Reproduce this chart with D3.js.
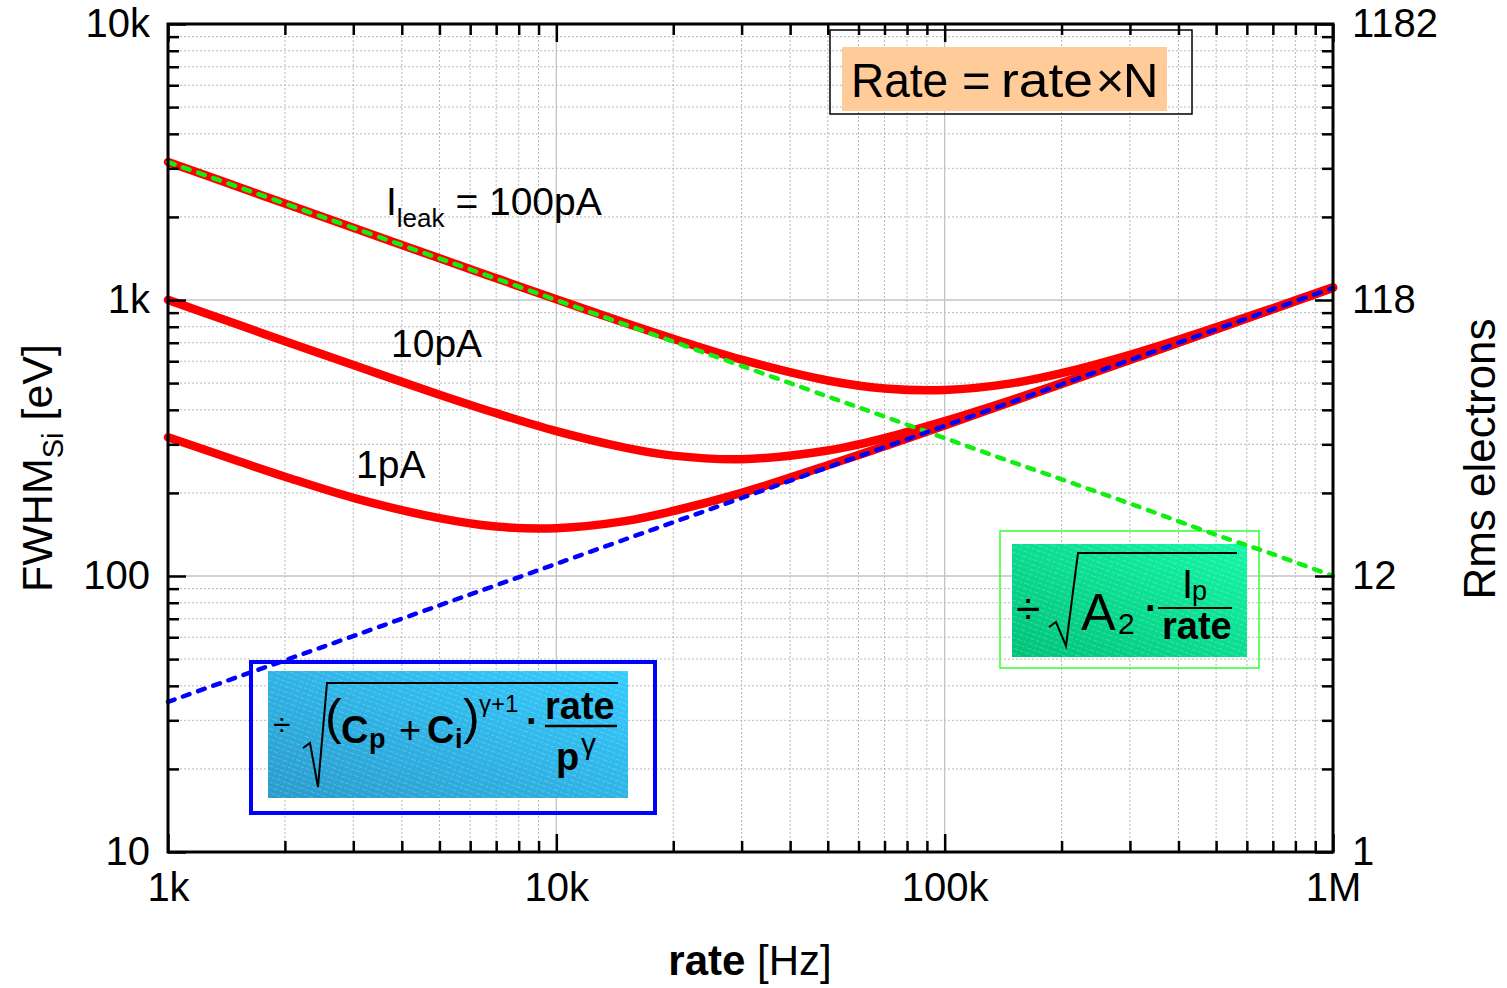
<!DOCTYPE html>
<html>
<head>
<meta charset="utf-8">
<script src="https://cdn.jsdelivr.net/npm/d3@7/dist/d3.min.js"></script>
<style>
  body { margin: 0; background: #fff; }
  svg text { font-family: "Liberation Sans", Arial, sans-serif; }
</style>
</head>
<body>
<svg id="chart" width="1507" height="988"></svg>
<script>
// values
const rate = [1e3, 1.5e3, 2e3, 3e3, 5e3, 7e3, 1e4, 1.5e4, 2e4, 3e4, 5e4, 7e4, 1e5, 1.5e5, 2e5, 3e5, 5e5, 7e5, 1e6];
const fwhm100pA = [3162, 2582, 2237, 1827, 1416, 1199, 1006, 827, 724, 608, 511, 478, 472, 500, 543, 633, 796, 934, 1112];
const fwhm10pA  = [1001, 818, 709, 581, 454, 389, 335, 292, 273, 265, 285, 316, 364, 436, 500, 609, 784, 927, 1108];
const fwhm1pA   = [318, 262, 229, 192, 162, 151, 149, 158, 172, 200, 252, 295, 351, 430, 496, 606, 783, 926, 1107];
const leakTerm  = [3162, 2582, 2236, 1826, 1414, 1195, 1000, 816, 707, 577, 447, 378, 316, 258, 224, 183, 141, 120, 100];
const rateTerm  = [35, 42.9, 49.5, 60.6, 78.3, 92.6, 110.7, 135.6, 156.5, 191.7, 247.5, 292.8, 350, 428.7, 495, 606, 783, 926, 1107];

const xMajor = [1e3, 1e4, 1e5, 1e6];
const xTickLabels = ["1k", "10k", "100k", "1M"];
const yMajor = [10, 100, 1e3, 1e4];
const yTickLabels = ["10", "100", "1k", "10k"];
const rightTickLabels = ["1", "12", "118", "1182"];

const svg = d3.select('#chart');
const L = 168, R = 1333, T = 24, B = 852;

const x = d3.scaleLog().domain([1e3, 1e6]).range([L, R]);
const y = d3.scaleLog().domain([10, 1e4]).range([B, T]);

// minor tick positions 2..9 in each decade
const minorOf = (lo, hi) => {
    let out = [];
    for (let d = lo; d < hi; d *= 10)
        for (let k = 2; k <= 9; k++) out.push(k * d);
    return out;
};
const xMinor = minorOf(1e3, 1e6);
const yMinor = minorOf(10, 1e4);

const defs = svg.append('defs');
function grad(id, c0, c1) {
    let g = defs.append('linearGradient').attr('id', id)
        .attr('x1', '0%').attr('y1', '100%').attr('x2', '100%').attr('y2', '0%');
    g.append('stop').attr('offset', '0%').attr('stop-color', c0);
    g.append('stop').attr('offset', '100%').attr('stop-color', c1);
}
grad('cyanGrad', '#2a9ccc', '#35ccff');
grad('greenGrad', '#00c279', '#16f7a8');
let pat = defs.append('pattern').attr('id', 'hatch')
    .attr('width', 12).attr('height', 5)
    .attr('patternUnits', 'userSpaceOnUse')
    .attr('patternTransform', 'rotate(20)');
pat.append('line').attr('x1', 0).attr('y1', 2.5).attr('x2', 12).attr('y2', 2.5)
    .attr('stroke', '#fff').attr('stroke-opacity', 0.22).attr('stroke-width', 1)
    .attr('stroke-dasharray', '3,2');

// grid
let grid = svg.append('g');
grid.selectAll('.gxm').data(xMinor).enter().append('line')
    .attr('x1', d => x(d)).attr('x2', d => x(d)).attr('y1', T).attr('y2', B)
    .attr('stroke', '#b8b8b8').attr('stroke-dasharray', '2,2');
grid.selectAll('.gym').data(yMinor).enter().append('line')
    .attr('y1', d => y(d)).attr('y2', d => y(d)).attr('x1', L).attr('x2', R)
    .attr('stroke', '#b8b8b8').attr('stroke-dasharray', '2,2');
grid.selectAll('.gxM').data(xMajor.slice(1, 3)).enter().append('line')
    .attr('x1', d => x(d)).attr('x2', d => x(d)).attr('y1', T).attr('y2', B)
    .attr('stroke', '#c4c4c4').attr('stroke-width', 1.3);
grid.selectAll('.gyM').data(yMajor.slice(1, 3)).enter().append('line')
    .attr('y1', d => y(d)).attr('y2', d => y(d)).attr('x1', L).attr('x2', R)
    .attr('stroke', '#c4c4c4').attr('stroke-width', 1.3);

// formula boxes
function box(x0, y0, w, h, stroke, sw, fx, fy, fw, fh, fill) {
    svg.append('rect').attr('x', x0).attr('y', y0).attr('width', w).attr('height', h)
        .attr('fill', 'none').attr('stroke', stroke).attr('stroke-width', sw);
    svg.append('rect').attr('x', fx).attr('y', fy).attr('width', fw).attr('height', fh)
        .attr('fill', fill);
}
box(830, 30, 362, 84, '#000', 1.5, 842, 47, 325, 64, '#ffcc99');
box(251, 662, 404, 151, '#0000ff', 4, 268, 671, 360, 127, 'url(#cyanGrad)');
svg.append('rect').attr('x', 268).attr('y', 671).attr('width', 360).attr('height', 127).attr('fill', 'url(#hatch)');
box(1000, 531, 259, 137, '#33ff33', 1.5, 1012, 544, 235, 113, 'url(#greenGrad)');
svg.append('rect').attr('x', 1012).attr('y', 544).attr('width', 235).attr('height', 113).attr('fill', 'url(#hatch)');

function txt(s, px, py, size, weight, anchor) {
    return svg.append('text').attr('x', px).attr('y', py)
        .attr('font-size', size).attr('font-weight', weight || 'normal')
        .attr('text-anchor', anchor || 'start').text(s);
}

// Rate = rate x N
txt('Rate', 851, 97, 49).attr('textLength', 97).attr('lengthAdjust', 'spacingAndGlyphs');
txt('=', 962, 97, 49);
txt('rate', 1001, 97, 49).attr('textLength', 92).attr('lengthAdjust', 'spacingAndGlyphs');
txt('\u00d7', 1110, 97, 49, 'normal', 'middle');
txt('N', 1123, 97, 49);

// blue formula
txt('\u00f7', 273, 735, 32);
svg.append('path').attr('d', 'M303,748 L310,743 L318,787 L327,683 L618,683')
    .attr('fill', 'none').attr('stroke', '#000').attr('stroke-width', 2);
txt('(', 325, 734, 50);
txt('C', 341, 743, 38, 'bold');
txt('p', 369, 748, 27, 'bold');
txt('+', 399, 743, 38);
txt('C', 427, 743, 38, 'bold');
txt('i', 455, 748, 27, 'bold');
txt(')', 463, 734, 50);
txt('\u03b3+1', 479, 712, 24);
txt('\u00b7', 526, 734, 38, 'bold');
txt('rate', 545, 719, 38, 'bold');
svg.append('line').attr('x1', 545).attr('x2', 617).attr('y1', 726).attr('y2', 726)
    .attr('stroke', '#000').attr('stroke-width', 2.5);
txt('p', 556, 770, 38, 'bold');
txt('\u03b3', 581, 754, 30);

// green formula
txt('\u00f7', 1016, 624, 44);
svg.append('path').attr('d', 'M1049,627 L1056,622 L1066,646 L1078,553 L1237,553')
    .attr('fill', 'none').attr('stroke', '#000').attr('stroke-width', 2);
txt('A', 1081, 630, 52);
txt('2', 1118, 634, 30);
txt('\u00b7', 1145, 621, 38, 'bold');
txt('I', 1182, 598, 40);
txt('p', 1192, 600, 27);
svg.append('line').attr('x1', 1158).attr('x2', 1232).attr('y1', 608).attr('y2', 608)
    .attr('stroke', '#000').attr('stroke-width', 2);
txt('rate', 1162, 639, 38, 'bold');

// curves
const pts = vals => rate.map((r, i) => [x(r), y(vals[i])]);
const line = d3.line().curve(d3.curveCatmullRom);
[fwhm100pA, fwhm10pA, fwhm1pA].forEach(v => {
    svg.append('path').attr('d', line(pts(v)))
        .attr('fill', 'none').attr('stroke', '#ff0000').attr('stroke-width', 8.5)
        .attr('stroke-linecap', 'round').attr('stroke-linejoin', 'round');
});
svg.append('path').attr('d', line(pts(leakTerm)))
    .attr('fill', 'none').attr('stroke', '#11ee11').attr('stroke-width', 4.5)
    .attr('stroke-dasharray', '7,9').attr('stroke-linecap', 'round');
svg.append('path').attr('d', line(pts(rateTerm)))
    .attr('fill', 'none').attr('stroke', '#0000ff').attr('stroke-width', 4.5)
    .attr('stroke-dasharray', '7,9').attr('stroke-linecap', 'round');

// curve labels
let lab = svg.append('text').attr('x', 386).attr('y', 215).attr('font-size', 39);
lab.append('tspan').text('I');
lab.append('tspan').attr('font-size', 26).attr('dy', 12).text('leak');
lab.append('tspan').attr('dy', -12).text(' = 100pA');
txt('10pA', 391, 357, 39);
txt('1pA', 356, 478, 39);

// axes with inward ticks
function drawAxis(gen, scale, tx, ty, minor, major, labels, pad) {
    svg.append('g').attr('transform', `translate(${tx},${ty})`)
        .call(gen(scale).tickValues(minor).tickSize(-11).tickFormat(''))
        .call(g => g.select('.domain').remove())
        .call(g => g.selectAll('line').attr('stroke-width', 2.5));
    let g = svg.append('g').attr('transform', `translate(${tx},${ty})`)
        .call(gen(scale).tickValues(major).tickSize(-18).tickPadding(pad)
            .tickFormat((d, i) => labels ? labels[i] : ''))
        .call(g => g.select('.domain').remove())
        .call(g => g.selectAll('line').attr('stroke-width', 2.5));
    g.selectAll('text').attr('font-size', 40).attr('fill', '#000')
        .attr('font-family', '"Liberation Sans", Arial, sans-serif');
    return g;
}
drawAxis(d3.axisBottom, x, 0, B, xMinor, xMajor, xTickLabels, 21);
drawAxis(d3.axisTop, x, 0, T, xMinor, xMajor, null, 0);
drawAxis(d3.axisLeft, y, L, 0, yMinor, yMajor, yTickLabels, 18);
drawAxis(d3.axisRight, y, R, 0, yMinor, yMajor, rightTickLabels, 19);

svg.append('rect').attr('x', L).attr('y', T).attr('width', R - L).attr('height', B - T)
    .attr('fill', 'none').attr('stroke', '#000').attr('stroke-width', 3);

// axis titles
let xt = svg.append('text').attr('x', 750).attr('y', 975).attr('font-size', 42)
    .attr('text-anchor', 'middle');
xt.append('tspan').attr('font-weight', 'bold').text('rate');
xt.append('tspan').text(' [Hz]');

let yt = svg.append('text').attr('transform', 'translate(52,468) rotate(-90)')
    .attr('font-size', 43).attr('text-anchor', 'middle');
yt.append('tspan').text('FWHM');
yt.append('tspan').attr('font-size', 29).attr('dy', 11).text('Si');
yt.append('tspan').attr('dy', -11).text(' [eV]');

svg.append('text').attr('transform', 'translate(1495,459) rotate(-90)')
    .attr('font-size', 44).attr('text-anchor', 'middle').text('Rms electrons');
</script>
</body>
</html>
